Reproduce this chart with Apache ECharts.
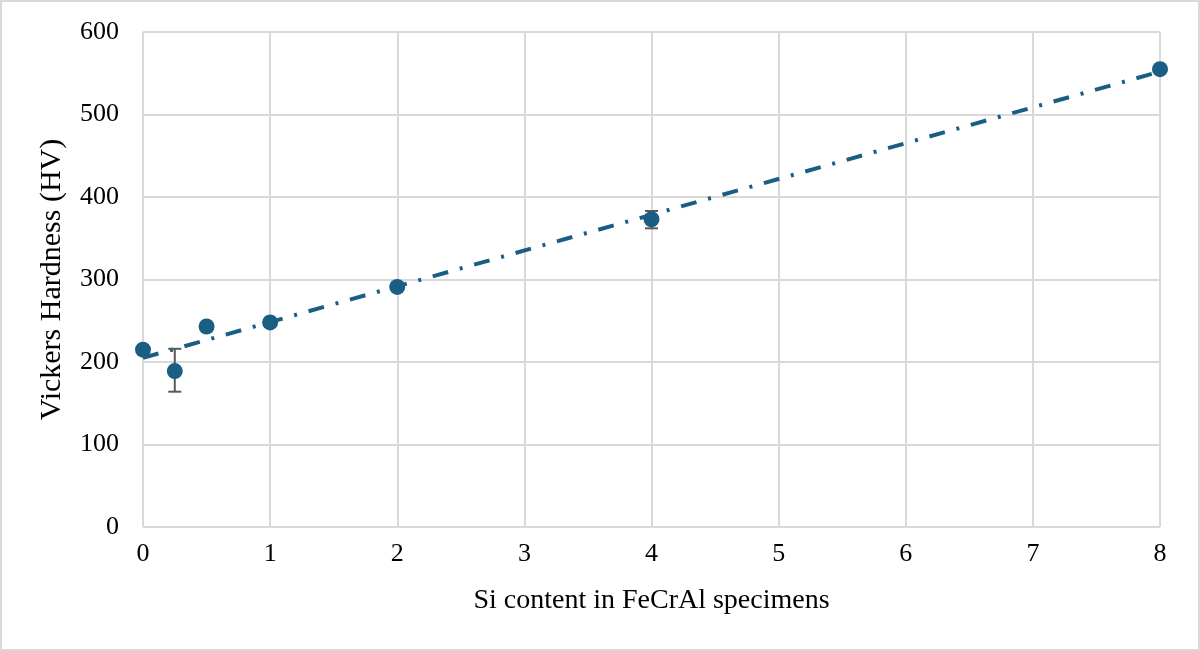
<!DOCTYPE html>
<html>
<head>
<meta charset="utf-8">
<script src="https://cdn.jsdelivr.net/npm/echarts@6/dist/echarts.min.js"></script>
<style>
  html, body { margin: 0; padding: 0; background: #fff; }
  #chart { width: 1200px; height: 651px; box-sizing: border-box; border: 2px solid #d9d9d9; }
</style>
</head>
<body>
<div id="chart"></div>
<script>
// data
const siContent = [0, 0.25, 0.5, 1, 2, 4, 8];
const hardness = [215, 189, 243, 248, 291, 373, 555];
const errLow = [null, 164, null, null, null, 362, null];
const errHigh = [null, 216, null, null, null, 383, null];
const trendX = [0, 8];
const trendY = [205, 552];

const points = siContent.map((x, i) => [x, hardness[i]]);
const errors = siContent.map((x, i) => [x, errLow[i], errHigh[i]]).filter(d => d[1] != null);
const trend = trendX.map((x, i) => [x, trendY[i]]);

const font = 'Liberation Serif, Times New Roman, serif';
const chart = echarts.init(document.getElementById('chart'));

chart.setOption({
  animation: false,
  grid: { left: 141, right: 38, top: 30, bottom: 122 },
  xAxis: {
    type: 'value', min: 0, max: 8, interval: 1,
    name: 'Si content in FeCrAl specimens', nameLocation: 'middle', nameGap: 60,
    nameTextStyle: { fontFamily: font, fontSize: 28, color: '#000' },
    axisLine: { show: false },
    axisTick: { show: false },
    axisLabel: { fontFamily: font, fontSize: 26, color: '#000', margin: 14 },
    splitLine: { show: true, lineStyle: { color: '#d9d9d9', width: 2 } }
  },
  yAxis: {
    type: 'value', min: 0, max: 600, interval: 100,
    name: 'Vickers Hardness (HV)', nameLocation: 'middle', nameGap: 76,
    nameTextStyle: { fontFamily: font, fontSize: 30, color: '#000' },
    axisLine: { show: false },
    axisTick: { show: false },
    axisLabel: { fontFamily: font, fontSize: 26, color: '#000', margin: 24 },
    splitLine: { show: true, lineStyle: { color: '#d9d9d9', width: 2 } }
  },
  series: [
    {
      type: 'line', data: trend, symbol: 'none', z: 3,
      lineStyle: { color: '#1b5e84', width: 4, type: [16, 12, 3, 12] }
    },
    {
      type: 'custom', z: 4,
      renderItem: function (params, api) {
        const x = api.value(0);
        const lo = api.coord([x, api.value(1)]);
        const hi = api.coord([x, api.value(2)]);
        const w = 13;
        const style = { stroke: '#595959', lineWidth: 2 };
        return {
          type: 'group',
          children: [
            { type: 'line', shape: { x1: lo[0], y1: lo[1], x2: hi[0], y2: hi[1] }, style: style },
            { type: 'line', shape: { x1: lo[0] - w / 2, y1: lo[1], x2: lo[0] + w / 2, y2: lo[1] }, style: style },
            { type: 'line', shape: { x1: hi[0] - w / 2, y1: hi[1], x2: hi[0] + w / 2, y2: hi[1] }, style: style }
          ]
        };
      },
      encode: { x: 0, y: [1, 2] },
      data: errors
    },
    {
      type: 'scatter', data: points, symbol: 'circle', symbolSize: 16, z: 5,
      itemStyle: { color: '#1b5e84', opacity: 1 }
    }
  ]
});
</script>
</body>
</html>
